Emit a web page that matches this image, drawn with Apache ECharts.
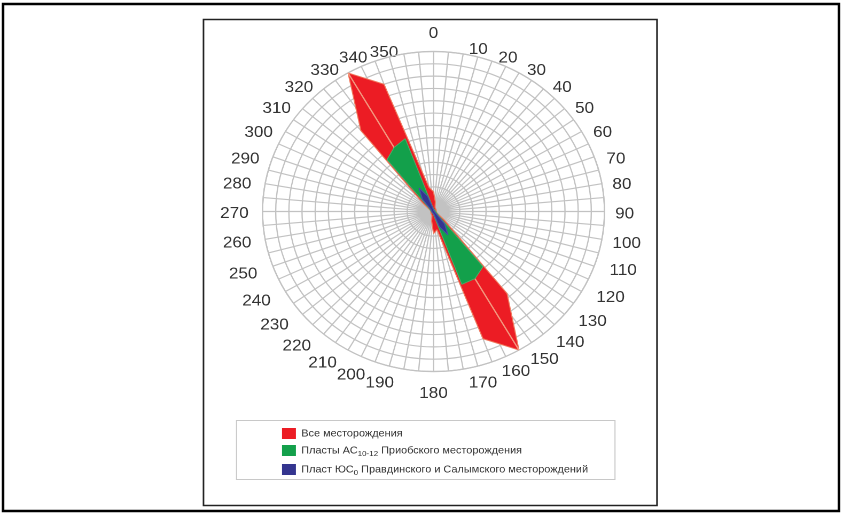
<!DOCTYPE html>
<html>
<head>
<meta charset="utf-8">
<script src="https://cdn.jsdelivr.net/npm/echarts@6/dist/echarts.min.js"></script>
<style>
  html, body { margin: 0; padding: 0; background: #fff; }
  #wrap { width: 843px; height: 515px; overflow: hidden; position: relative; }
  #chart { width: 789px; height: 515px; transform: scaleX(1.0684); transform-origin: 0 0; }
</style>
</head>
<body>
<div id="wrap"><div id="chart"></div></div>
<script>
// Azimuths of the rose (degrees, clockwise from north)
const angles = [0, 10, 20, 30, 40, 50, 60, 70, 80, 90, 100, 110, 120, 130, 140, 150, 160, 170,
                180, 190, 200, 210, 220, 230, 240, 250, 260, 270, 280, 290, 300, 310, 320, 330, 340, 350];

// All fields
const allFields = [1.6, 0.8, 0.35, 0.25, 0.25, 0.25, 0.15, 0.15, 0.15, 0.15, 0.15, 0.25, 0.35, 1.05, 8.7, 13.0, 11.0, 1.5,
                   1.8, 0.8, 0.35, 0.25, 0.25, 0.25, 0.15, 0.15, 0.15, 0.15, 0.15, 0.25, 0.35, 1.05, 8.6, 13.0, 11.0, 2.0];

// AC10-12 formations, Priobskoye field
const priobFields = [0.25, 0.15, 0.15, 0.15, 0.15, 0.15, 0.15, 0.15, 0.15, 0.15, 0.15, 0.15, 0.15, 0.5, 5.85, 6.3, 6.3, 0.5,
                     0.25, 0.15, 0.15, 0.15, 0.15, 0.15, 0.15, 0.15, 0.15, 0.15, 0.15, 0.15, 0.15, 0.5, 5.5, 6.0, 6.3, 0.4];

// YuS0 formation, Pravdinskoye and Salym fields
const pravdFields = [0.12, 0.12, 0.12, 0.12, 0.12, 0.12, 0.12, 0.12, 0.12, 0.12, 0.12, 0.12, 0.12, 0.25, 1.3, 2.2, 1.3, 0.25,
                     0.12, 0.12, 0.12, 0.12, 0.12, 0.12, 0.12, 0.12, 0.12, 0.12, 0.12, 0.12, 0.12, 0.25, 1.3, 2.2, 1.3, 0.25];

// Main strike axis drawn through the rose
const strikeAxis = [[0, 330], [13, 330], [0, 330], [0, 150], [13, 150]];

const seriesNames = [
  'Все месторождения',
  'Пласты АС10-12 Приобского месторождения',
  'Пласт ЮС0 Правдинского и Салымского месторождений'
];
const legendRich = [
  '{n|Все месторождения}',
  '{n|Пласты АС}{s|10-12}{n| Приобского месторождения}',
  '{n|Пласт ЮС}{s|0}{n| Правдинского и Салымского месторождений}'
];
const colors = ['#ec1c24', '#13a04b', '#34358f'];

const rMax = 13;
const SX = 1.0684;             // horizontal stretch applied to the drawing
const X = v => v / SX;         // page x -> chart x

function closed(vals) {
  const d = angles.map((a, i) => [vals[i], a]);
  d.push([vals[0], 360]);
  return d;
}

// label style group for each azimuth label
function labelKey(v) {
  if (v === 0) return 'n0';
  if (v === 180) return 's0';
  if (v === 10) return 'n1';
  if (v === 350) return 'n2';
  if (v === 170) return 's1';
  if (v === 190) return 's2';
  if (v < 80) return 'ur';
  if (v <= 100) return 'mr';
  if (v < 170) return 'lr';
  if (v < 260) return 'll';
  if (v <= 280) return 'ml';
  return 'ul';
}
const lblFont = { fontSize: 16, color: '#333', fontFamily: 'Liberation Sans, Arial, sans-serif' };
const lbl = (lineHeight, padding) => Object.assign({ lineHeight: lineHeight, padding: padding }, lblFont);

const gridColor = '#c2c2c2';
const chart = echarts.init(document.getElementById('chart'), null, { devicePixelRatio: 2 });

chart.setOption({
  animation: false,
  polar: { center: [X(433.5), 211.5], radius: 160 },
  angleAxis: {
    type: 'value', min: 0, max: 360, interval: 5, startAngle: 90, clockwise: true,
    axisLine: { show: true, lineStyle: { color: gridColor, width: 1.2 } },
    axisTick: { show: false },
    splitLine: { show: true, lineStyle: { color: gridColor, width: 1.2 } },
    axisLabel: {
      margin: 9, fontSize: 16, color: '#333', fontFamily: 'Liberation Sans, Arial, sans-serif',
      formatter: v => (v % 10 === 0 && v < 360) ? '{' + labelKey(v) + '|' + v + '}' : '',
      rich: {
        n0: lbl(18, [0, 0, 0, 0]),
        s0: lbl(26, [0, 0, 0, 0]),
        n1: lbl(1, [10, 0, 0, 25]),
        n2: lbl(1, [16, 34, 0, 0]),
        s1: lbl(10, [0, 0, 0, 34]),
        s2: lbl(10, [0, 42, 0, 0]),
        ur: lbl(1, [12, 0, 0, 3]),
        ul: lbl(1, [12, 4, 0, 0]),
        mr: lbl(1, [5, 0, 0, 1]),
        ml: lbl(1, [4, 4, 0, 0]),
        lr: lbl(1, [2, 0, 0, 6]),
        ll: lbl(1, [9, 6, 0, 0])
      }
    }
  },
  radiusAxis: {
    type: 'value', min: 0, max: rMax, interval: 1,
    axisLine: { show: false }, axisTick: { show: false }, axisLabel: { show: false },
    splitLine: { show: true, lineStyle: { color: gridColor, width: 1.2 } }
  },
  legend: {
    data: seriesNames,
    orient: 'vertical',
    left: X(282) - 5, top: 423,
    itemWidth: 13, itemHeight: 11, itemGap: 4,
    icon: 'rect',
    formatter: name => legendRich[seriesNames.indexOf(name)],
    textStyle: {
      color: '#333',
      rich: {
        n: { fontSize: 10.2, lineHeight: 13, color: '#333', fontFamily: 'Liberation Sans, Arial, sans-serif' },
        s: { fontSize: 7.5, lineHeight: 13, color: '#333', fontFamily: 'Liberation Sans, Arial, sans-serif', padding: [7, 0, 0, 0] }
      }
    }
  },
  graphic: [
    { type: 'rect', shape: { x: X(3), y: 4, width: X(839) - X(3), height: 507 },
      style: { fill: 'none', stroke: '#000', lineWidth: 2.5 }, silent: true },
    { type: 'rect', shape: { x: X(203.5), y: 19.5, width: X(657) - X(203.5), height: 486 },
      style: { fill: 'none', stroke: '#222', lineWidth: 1.5 }, silent: true },
    { type: 'rect', shape: { x: X(236.5), y: 420.5, width: X(615) - X(236.5), height: 59 },
      style: { fill: 'none', stroke: '#c8c8c8', lineWidth: 1 }, silent: true }
  ],
  series: [
    {
      name: seriesNames[0], type: 'line', coordinateSystem: 'polar', data: closed(allFields),
      symbol: 'none', color: colors[0], z: 2,
      lineStyle: { color: '#f0785c', width: 1 },
      areaStyle: { color: colors[0], opacity: 1 }
    },
    {
      name: 'strike', type: 'line', coordinateSystem: 'polar', data: strikeAxis,
      symbol: 'none', z: 3, lineStyle: { color: '#f39a80', width: 1.3 }
    },
    {
      name: seriesNames[1], type: 'line', coordinateSystem: 'polar', data: closed(priobFields),
      symbol: 'none', color: colors[1], z: 4,
      lineStyle: { color: '#4caf6a', width: 0.8 },
      areaStyle: { color: colors[1], opacity: 1 }
    },
    {
      name: seriesNames[2], type: 'line', coordinateSystem: 'polar', data: closed(pravdFields),
      symbol: 'none', color: colors[2], z: 5,
      lineStyle: { color: '#4a4ba6', width: 1 },
      areaStyle: { color: colors[2], opacity: 1 }
    }
  ]
});
</script>
</body>
</html>
